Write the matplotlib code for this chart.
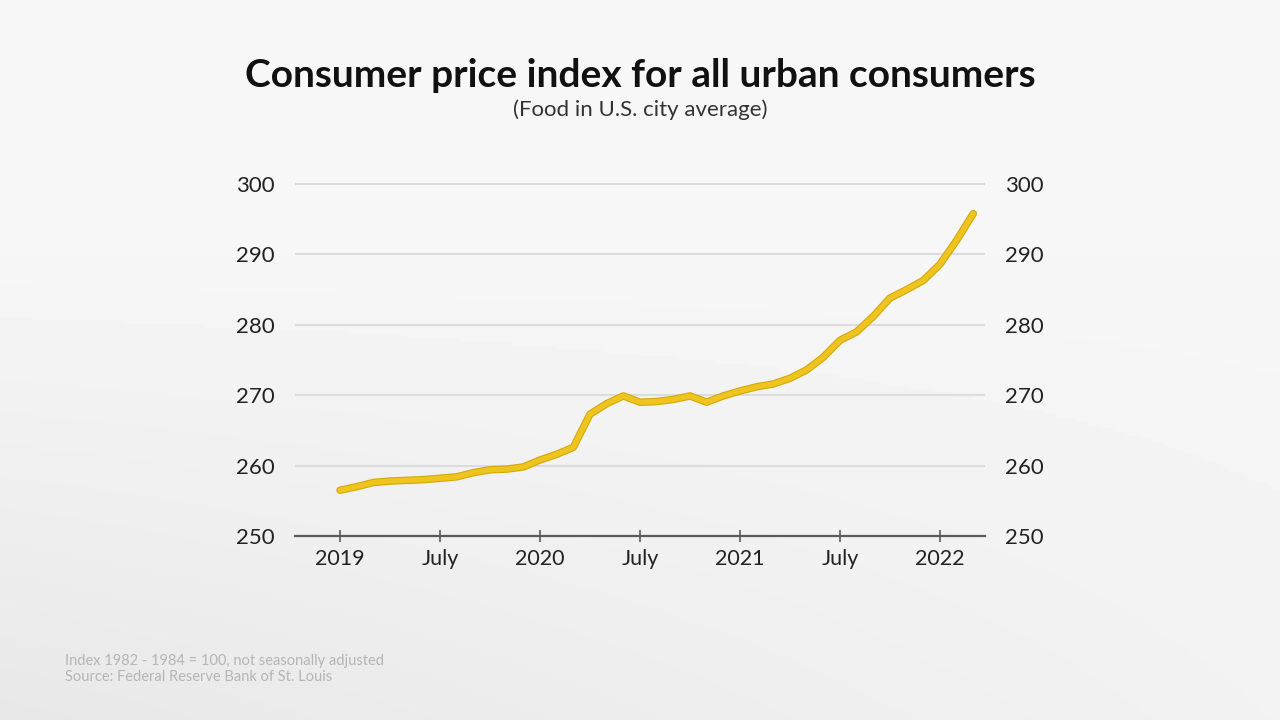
import numpy as np
import matplotlib.pyplot as plt

# ---- data: CPI-U, food in U.S. city average, monthly Jan 2019 - Mar 2022 ----
cpi_2019 = [256.5, 257.0, 257.6, 257.8, 257.9, 258.0, 258.2, 258.4, 259.0, 259.4, 259.5, 259.8]
cpi_2020 = [260.8, 261.6, 262.6, 267.3, 268.8, 269.9, 269.0, 269.1, 269.4, 269.9, 269.0, 269.9]
cpi_2021 = [270.6, 271.2, 271.6, 272.4, 273.6, 275.4, 277.8, 279.0, 281.2, 283.8, 285.0, 286.3]
cpi_2022 = [288.6, 292.0, 295.8]
cpi = cpi_2019 + cpi_2020 + cpi_2021 + cpi_2022

tick_months = [0, 6, 12, 18, 24, 30, 36]
tick_labels = ["2019", "July", "2020", "July", "2021", "July", "2022"]
y_ticks = [250, 260, 270, 280, 290, 300]

title = "Consumer price index for all urban consumers"
subtitle = "(Food in U.S. city average)"
note = "Index 1982 - 1984 = 100, not seasonally adjusted\nSource: Federal Reserve Bank of St. Louis"

plt.rcParams['font.family'] = ['Lato', 'DejaVu Sans']

fig = plt.figure(figsize=(12.8, 7.2), dpi=100)

# soft grey background, lighter at the top right
bg = fig.add_axes([0, 0, 1, 1], zorder=-10)
yy, xx = np.mgrid[0:1:200j, 0:1:200j]
shade = 0.965 - 0.08 * np.clip(yy - 0.35, 0, None) * (1.1 - 0.8 * xx)
bg.imshow(shade, cmap="gray", vmin=0, vmax=1, aspect="auto", extent=[0, 1, 0, 1])
bg.axis("off")

ax = fig.add_axes([0.2305, 0.2556, 0.539, 0.4917])
ax.patch.set_alpha(0)
months = np.arange(len(cpi))
ax.plot(months, cpi, color="#d2a90a", lw=5.4, solid_capstyle="round", zorder=3)
ax.plot(months, cpi, color="#f0c41e", lw=3.8, solid_capstyle="round", zorder=4)

ax.set_xlim(-2.7, 38.7)
ax.set_ylim(250, 300.3)
ax.set_yticks(y_ticks)
ax.set_xticks(tick_months)
ax.set_xticklabels(tick_labels)
ax.grid(axis="y", color="#dcdcdc", lw=1.5)
for s in ["top", "right", "left"]:
    ax.spines[s].set_visible(False)
ax.spines["bottom"].set_color("#5a5a5a")
ax.spines["bottom"].set_linewidth(1.6)
ax.tick_params(axis="y", left=False, right=False, labelleft=True, labelright=True,
               labelsize=16, labelcolor="#222222", pad=11)
ax.tick_params(axis="x", direction="inout", length=9, width=1.2, color="#5a5a5a",
               labelsize=15.5, labelcolor="#222222", pad=5)

fig.text(0.5, 0.895, title, ha="center", va="center", fontsize=28, fontweight="bold", color="#111111")
fig.text(0.5, 0.848, subtitle, ha="center", va="center", fontsize=16, color="#333333")
fig.text(0.051, 0.071, note, ha="left", va="center", fontsize=10.5, color="#b5b5b5", linespacing=1.25)

fig.savefig("out.png", dpi=100)
